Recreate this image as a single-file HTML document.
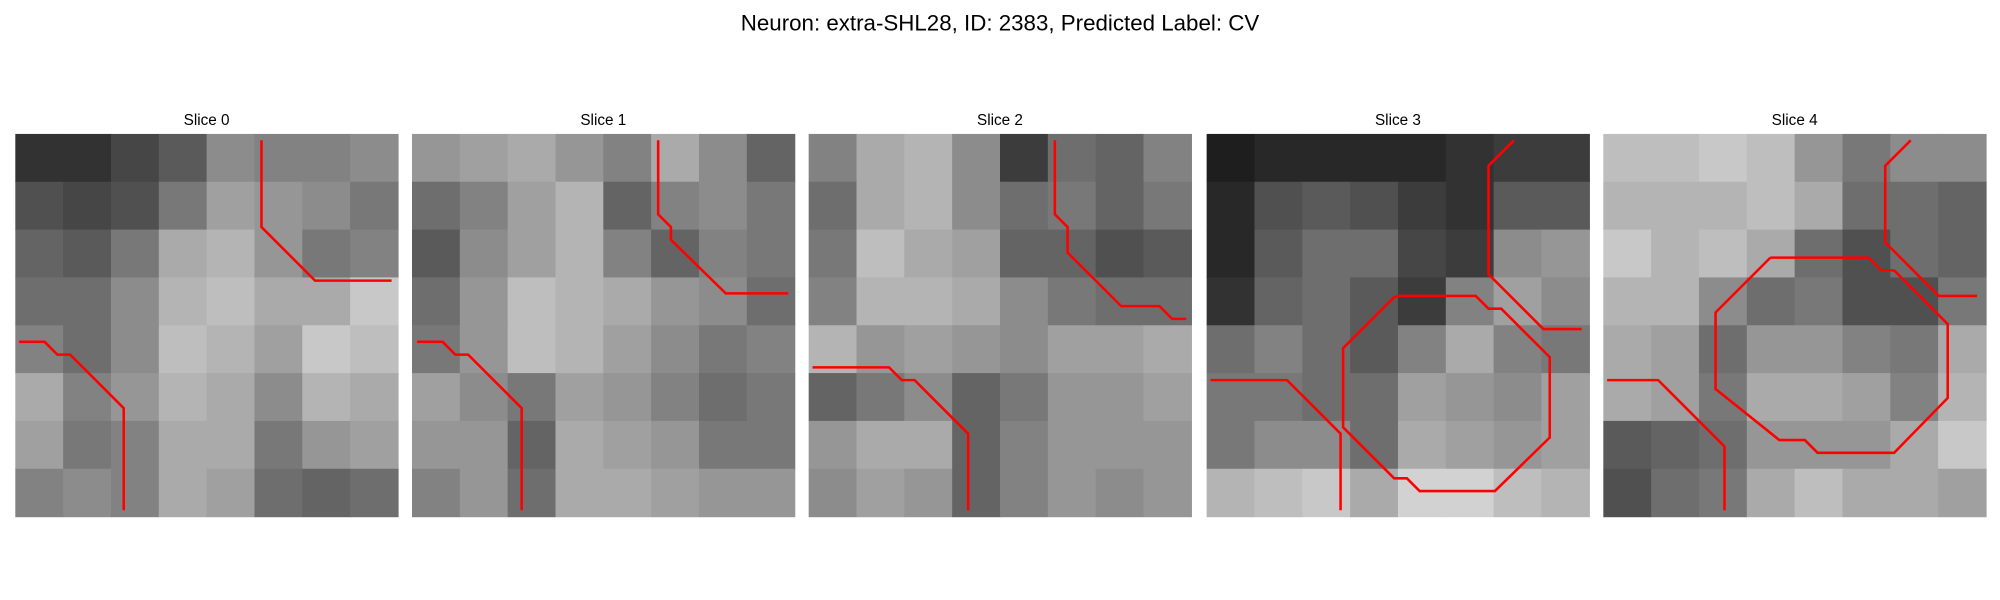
<!DOCTYPE html>
<html><head><meta charset="utf-8">
<style>
html,body{margin:0;padding:0;background:#fff;}
svg{display:block;font-family:"Liberation Sans","DejaVu Sans",sans-serif;}
</style></head>
<body>
<svg id="fig" width="2000" height="600" viewBox="0 0 1568 470.4" xmlns="http://www.w3.org/2000/svg">
<rect width="1568" height="470.4" fill="#fff"/>
<text x="784" y="24" text-anchor="middle" font-size="17.5" fill="#000">Neuron: extra-SHL28, ID: 2383, Predicted Label: CV</text>
<g id="panels"></g>
</svg>
<script>
const panelLefts=[12,323,634,946,1257];
const sliceLabels=["Slice 0","Slice 1","Slice 2","Slice 3","Slice 4"];
const brightness0=[[50,50,70,90,140,130,130,140],[80,70,80,120,160,150,140,120],[100,90,120,170,180,150,120,130],[110,110,140,180,190,170,170,200],[130,110,140,190,180,160,200,190],[170,130,150,180,170,140,180,170],[160,120,130,170,170,120,150,160],[130,140,130,170,160,110,100,110]];
const brightness1=[[150,160,170,150,130,170,140,100],[110,130,160,180,100,130,140,120],[90,140,160,180,130,100,130,120],[110,150,190,180,170,150,140,110],[120,150,190,180,160,140,120,130],[160,140,120,160,150,130,110,120],[150,150,100,170,160,150,120,120],[130,150,110,170,170,160,150,150]];
const brightness2=[[130,170,180,140,60,110,100,130],[110,170,180,140,110,120,100,120],[120,190,170,160,100,100,80,90],[130,180,180,170,140,120,110,110],[180,150,160,150,140,160,160,170],[100,120,140,100,120,150,150,160],[150,170,170,100,130,150,150,150],[140,160,150,100,130,150,140,150]];
const brightness3=[[30,40,40,40,40,50,60,60],[40,80,90,80,60,50,90,90],[40,90,110,110,70,60,140,150],[50,100,110,90,60,130,160,140],[110,130,110,90,130,170,130,120],[120,120,110,110,160,150,140,160],[120,140,140,110,170,160,150,160],[180,190,200,170,210,210,190,180]];
const brightness4=[[190,190,200,190,150,120,140,140],[180,180,180,190,170,110,110,100],[200,180,190,170,110,80,110,100],[180,180,140,110,120,80,80,120],[170,160,110,150,150,130,120,170],[170,160,120,170,170,160,130,180],[90,100,110,150,150,150,170,200],[80,110,120,170,190,170,170,160]];
const brightness=[brightness0,brightness1,brightness2,brightness3,brightness4];
const contours=[
[[[193,5],[193,73],[235,115],[295,115]],[[3,163],[23,163],[33,173],[43,173],[85,215],[85,295]]],
[[[193,5],[193,63],[203,73],[203,83],[246,125],[295,125]],[[4,163],[24,163],[34,173],[44,173],[86,215],[86,295]]],
[[[193,5],[193,63],[203,73],[203,93],[245,135],[275,135],[285,145],[296,145]],[[3,183],[63,183],[73,193],[83,193],[125,235],[125,295]]],
[[[241,5],[221,25],[221,110],[264,153],[294,153]],[[3,193],[63,193],[105,235],[105,295]],
 [[151,127],[211,127],[221,137],[231,137],[269,175],[269,238],[226,280],[167,280],[157,270],[147,270],[107,230],[107,168],[147,128],[151,127]]],
[[[241,5],[221,25],[221,85],[263,127],[293,127]],[[3,193],[43,193],[85,235],[95,245],[95,295]],
 [[131,97],[208,97],[218,107],[228,107],[270,149],[270,207],[228,250],[168,250],[158,240],[138,240],[88,200],[88,140],[131,97]]]
];
const NS="http://www.w3.org/2000/svg";
const top0=105, size=300;
const g=document.getElementById('panels');
panelLefts.forEach((px,i)=>{
  const pg=document.createElementNS(NS,'g');
  
  
  const b=brightness[i], n=b.length, c=size/n;
  b.forEach((row,r)=>row.forEach((v,k)=>{
    const rect=document.createElementNS(NS,'rect');
    
    
    rect.setAttribute('x',px+k*c);rect.setAttribute('y',top0+r*c);
    rect.setAttribute('width',c+0.5);rect.setAttribute('height',c+0.5);
    rect.setAttribute('fill',`rgb(${v},${v},${v})`);
    pg.appendChild(rect);
  }));
  contours[i].forEach(line=>{
    const pl=document.createElementNS(NS,'polyline');
    
    
    pl.setAttribute('points',line.map(p=>(px+p[0])+','+(top0+p[1])).join(' '));
    pl.setAttribute('fill','none');pl.setAttribute('stroke','#ff0000');pl.setAttribute('stroke-width','2');
    pg.appendChild(pl);
  });
  const t=document.createElementNS(NS,'text');
  
  
  t.setAttribute('x',px+size/2);t.setAttribute('y',98);
  t.setAttribute('text-anchor','middle');t.setAttribute('font-size','12');
  t.textContent=sliceLabels[i];
  pg.appendChild(t);
  g.appendChild(pg);
});
</script>
</body></html>
